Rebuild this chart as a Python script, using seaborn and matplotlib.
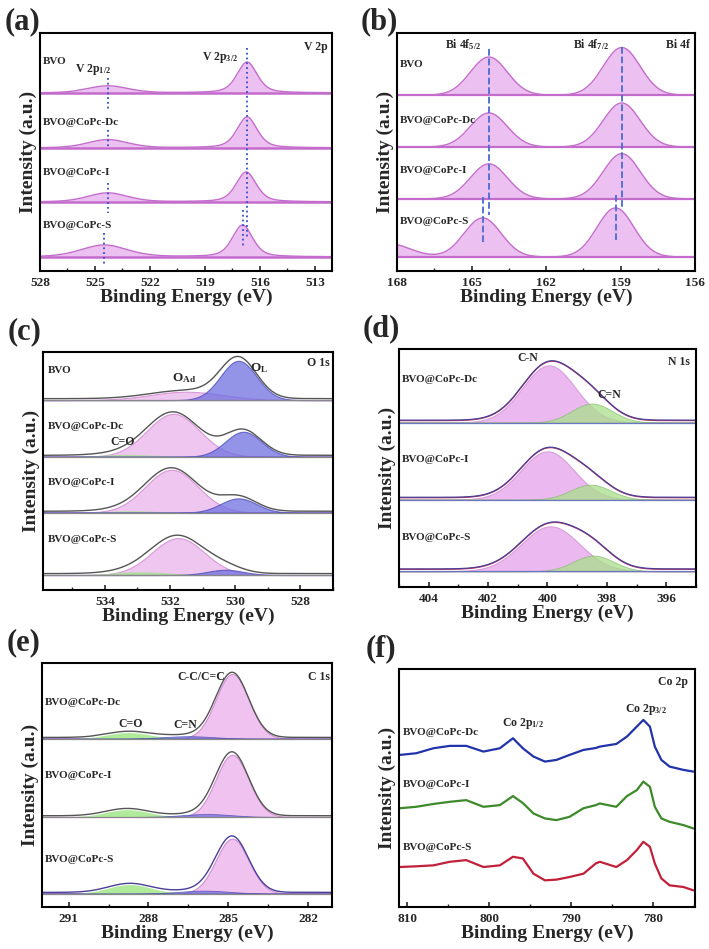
import numpy as np
import matplotlib
matplotlib.use('Agg')
import matplotlib.pyplot as plt
from matplotlib.ticker import MultipleLocator
import seaborn as sns

# === Data ===
samples4 = ['BVO', 'BVO@CoPc-Dc', 'BVO@CoPc-I', 'BVO@CoPc-S']
samples3 = ['BVO@CoPc-Dc', 'BVO@CoPc-I', 'BVO@CoPc-S']

# (a) V 2p
v2p_offset = [0.748, 0.517, 0.290, 0.059]
v2p32_center = [516.70, 516.70, 516.75, 516.95]
v2p32_height = [0.130, 0.130, 0.126, 0.134]
v2p12_center = [524.30, 524.30, 524.30, 524.50]
v2p12_height = [0.030, 0.035, 0.038, 0.050]
v2p12_fwhm = [2.6, 2.6, 2.6, 3.0]

# (b) Bi 4f
bi4f_offset = [0.739, 0.521, 0.303, 0.059]
bi72_center = [158.95, 158.95, 158.95, 159.20]
bi72_height = [0.200, 0.185, 0.190, 0.206]
bi52_center = [164.30, 164.30, 164.30, 164.55]
bi52_height = [0.160, 0.143, 0.147, 0.164]
bi_tail_height = [0.0, 0.0, 0.0, 0.055]

# (c) O 1s
o1s_offset = [0.798, 0.560, 0.325, 0.063]
ol_center = [529.90, 529.75, 529.90, 530.30]
ol_height = [0.165, 0.105, 0.060, 0.022]
oad_center = [531.50, 531.90, 531.95, 531.75]
oad_height = [0.035, 0.180, 0.180, 0.155]
oad_fwhm = [2.6, 1.9, 1.9, 1.9]
oco_center = [533.0, 533.3, 533.2, 532.9]
oco_height = [0.0, 0.010, 0.008, 0.014]

# (d) N 1s
n1s_offset = [0.691, 0.367, 0.066]
cn_center = [399.95, 400.00, 399.90]
cn_height = [0.240, 0.203, 0.189]
cn_fwhm = [2.1, 2.1, 2.3]
ndn_center = [398.50, 398.55, 398.45]
ndn_height = [0.080, 0.063, 0.066]

# (e) C 1s
c1s_offset = [0.690, 0.369, 0.055]
cc_center = [284.85, 284.85, 284.85]
cc_height = [0.265, 0.255, 0.225]
cdo_center = [288.75, 288.80, 288.70]
cdo_height = [0.025, 0.030, 0.037]
cdn_center = [286.50, 285.80, 285.90]
cdn_height = [0.010, 0.012, 0.012]

# (f) Co 2p spectra
co_energy = [810.9, 808.9, 806.8, 804.8, 802.8, 800.7, 798.7, 797.1, 795.9, 794.6,
             793.2, 791.8, 790.2, 788.5, 787.0, 786.5, 784.5, 783.2, 782.0, 781.2,
             780.4, 779.8, 779.0, 778.0, 776.3, 775.1]
co_dc = [0.639, 0.646, 0.667, 0.677, 0.677, 0.653, 0.667, 0.709, 0.667, 0.632,
         0.611, 0.618, 0.639, 0.660, 0.668, 0.674, 0.685, 0.716, 0.758, 0.786,
         0.758, 0.674, 0.618, 0.590, 0.576, 0.569]
co_i = [0.415, 0.421, 0.433, 0.442, 0.449, 0.421, 0.428, 0.466, 0.437, 0.393,
        0.372, 0.365, 0.379, 0.415, 0.428, 0.435, 0.421, 0.466, 0.491, 0.527,
        0.505, 0.421, 0.372, 0.358, 0.344, 0.330]
co_s = [0.168, 0.171, 0.175, 0.190, 0.197, 0.168, 0.175, 0.211, 0.204, 0.140,
        0.112, 0.115, 0.126, 0.140, 0.183, 0.190, 0.168, 0.197, 0.239, 0.274,
        0.253, 0.183, 0.120, 0.091, 0.084, 0.070]


def peak(x, c, h, fwhm, eta=0.0):
    g = np.exp(-4 * np.log(2) * (x - c) ** 2 / fwhm ** 2)
    l = 1.0 / (1 + 4 * (x - c) ** 2 / fwhm ** 2)
    return h * (eta * l + (1 - eta) * g)


sns.set_style('ticks')
plt.rcParams['font.family'] = ['Liberation Serif', 'DejaVu Serif']
plt.rcParams['font.weight'] = 'bold'
plt.rcParams['axes.labelweight'] = 'bold'
plt.rcParams['mathtext.fontset'] = 'custom'
plt.rcParams['mathtext.rm'] = 'Liberation Serif:bold'
plt.rcParams['mathtext.it'] = 'Liberation Serif:bold'
plt.rcParams['mathtext.bf'] = 'Liberation Serif:bold'

W, H = 709, 949
fig = plt.figure(figsize=(W / 100, H / 100), dpi=100)


def make_ax(l, r, t, b, xlim, major, minor, label):
    ax = fig.add_axes([l / W, (H - b) / H, (r - l) / W, (b - t) / H])
    ax.set_xlim(*xlim)
    ax.set_ylim(0, 1)
    ax.xaxis.set_major_locator(MultipleLocator(major))
    ax.xaxis.set_minor_locator(MultipleLocator(minor))
    ax.set_yticks([])
    ax.tick_params(axis='x', which='major', direction='in', length=3.5, width=1.2,
                   labelsize=9.5, pad=4)
    ax.tick_params(axis='x', which='minor', direction='in', length=2, width=1.0)
    for s in ax.spines.values():
        s.set_linewidth(1.5)
        s.set_color('black')
    ax.set_xlabel('Binding Energy (eV)', fontsize=14, labelpad=0)
    ax.set_ylabel('Intensity (a.u.)', fontsize=14, labelpad=2)
    fig.text((l - 18) / W, (H - 22) / H if t < 100 else (H - (t - 20)) / H, label,
             fontsize=22, fontweight='bold', ha='center', va='center')
    return ax


def small(ax, x, y, s, ha='left', trans=None, size=8.5):
    ax.text(x, y, s, fontsize=size, fontweight='bold', ha=ha, va='center',
            transform=trans if trans is not None else ax.get_xaxis_transform())


# === (a) V 2p ===
ax = make_ax(40, 332, 33, 271, (528, 512.07), 3, 1.5, '(a)')
x = np.linspace(528, 512.07, 700)
for i, name in enumerate(samples4):
    y = v2p_offset[i] + peak(x, v2p32_center[i], v2p32_height[i], 1.3, 0.45) \
        + peak(x, v2p12_center[i], v2p12_height[i], v2p12_fwhm[i], 0.3)
    ax.fill_between(x, v2p_offset[i], y, color='#ecc0f0', lw=0)
    sns.lineplot(x=x, y=y, ax=ax, color='#c46ccc', lw=1.0)
    ax.axhline(v2p_offset[i], color='#c46ccc', lw=1.8)
    small(ax, 0.01, [0.882, 0.626, 0.412, 0.193][i], name, trans=ax.transAxes, size=8)
ax.plot([516.7, 516.7], [0.937, 0.143], ls=':', color='#3050c8', lw=1.3)
ax.plot([516.95, 516.95], [0.256, 0.097], ls=':', color='#3050c8', lw=1.3)
for y0, y1 in [(0.811, 0.676), (0.592, 0.517), (0.37, 0.244)]:
    ax.plot([524.3, 524.3], [y0, y1], ls=':', color='#3050c8', lw=1.3)
ax.plot([524.5, 524.5], [0.16, 0.025], ls=':', color='#3050c8', lw=1.3)
small(ax, 526.1, 0.845, r'V 2p$_{1/2}$')
small(ax, 519.16, 0.899, r'V 2p$_{3/2}$')
small(ax, 0.986, 0.941, 'V 2p', ha='right', trans=ax.transAxes)

# === (b) Bi 4f ===
ax = make_ax(397, 695, 33, 271, (168, 156), 3, 1.5, '(b)')
x = np.linspace(168, 156, 700)
for i, name in enumerate(samples4):
    y = bi4f_offset[i] + peak(x, bi72_center[i], bi72_height[i], 1.75) \
        + peak(x, bi52_center[i], bi52_height[i], 1.75) + peak(x, 168.3, bi_tail_height[i], 2.0)
    ax.fill_between(x, bi4f_offset[i], y, color='#ecc0f0', lw=0)
    sns.lineplot(x=x, y=y, ax=ax, color='#c46ccc', lw=1.0)
    ax.axhline(bi4f_offset[i], color='#c46ccc', lw=1.6)
    small(ax, 0.01, [0.866, 0.634, 0.424, 0.206][i], name, trans=ax.transAxes, size=8)
ax.plot([164.3, 164.3], [0.933, 0.235], ls='--', color='#4a6ad0', lw=1.3)
ax.plot([158.95, 158.95], [0.941, 0.269], ls='--', color='#4a6ad0', lw=1.3)
ax.plot([164.55, 164.55], [0.311, 0.122], ls='--', color='#4a6ad0', lw=1.3)
ax.plot([159.2, 159.2], [0.319, 0.13], ls='--', color='#4a6ad0', lw=1.3)
small(ax, 166.06, 0.95, r'Bi 4f$_{5/2}$')
small(ax, 160.9, 0.95, r'Bi 4f$_{7/2}$')
small(ax, 0.983, 0.95, 'Bi 4f', ha='right', trans=ax.transAxes)

# === (c) O 1s ===
ax = make_ax(43, 333, 352, 590, (535.9, 527.0), 2, 1, '(c)')
x = np.linspace(535.9, 527.0, 700)
for i, name in enumerate(samples4):
    b = o1s_offset[i]
    p_ad = peak(x, oad_center[i], oad_height[i], oad_fwhm[i])
    p_l = peak(x, ol_center[i], ol_height[i], 1.3)
    p_co = peak(x, oco_center[i], oco_height[i], 2.0)
    ax.fill_between(x, b, b + p_ad, color='#efc6ef', lw=0.8, edgecolor='#d898d8')
    ax.fill_between(x, b, b + p_co, color='#a8e090', alpha=0.8, lw=0)
    ax.fill_between(x, b, b + p_l, color='#6f6fe0', alpha=0.75, lw=0.8, edgecolor='#4848b8')
    sns.lineplot(x=x, y=b + p_ad + p_l + p_co + 0.006, ax=ax, color='#555555', lw=1.0)
    ax.axhline(b, color='#888888', lw=0.9)
    small(ax, 0.015, [0.924, 0.685, 0.45, 0.214][i], name, trans=ax.transAxes, size=8)
small(ax, 531.94, 0.89, r'O$_{\mathrm{Ad}}$', size=9.5)
small(ax, 529.55, 0.933, r'O$_{\mathrm{L}}$', size=9.5)
small(ax, 0.99, 0.954, 'O 1s', ha='right', trans=ax.transAxes)
small(ax, 533.84, 0.622, 'C=O')

# === (d) N 1s ===
ax = make_ax(399, 696, 349, 587, (405, 395), 2, 1, '(d)')
x = np.linspace(405, 395, 700)
for i, name in enumerate(samples3):
    b = n1s_offset[i]
    p1 = peak(x, cn_center[i], cn_height[i], cn_fwhm[i])
    p2 = peak(x, ndn_center[i], ndn_height[i], 1.6)
    ax.fill_between(x, b, b + p1, color='#ebb8f0', lw=0.8, edgecolor='#d6a0dc')
    ax.fill_between(x, b, b + p2, color='#a8e08a', alpha=0.75, lw=0.6, edgecolor='#88b870')
    sns.lineplot(x=x, y=b + p1 + p2 + 0.008, ax=ax, color='#c83a5a', lw=0.9)
    sns.lineplot(x=x, y=b + p1 + p2 + 0.010, ax=ax, color='#4a3f99', lw=0.9)
    ax.axhline(b, color='#6a78c0', lw=0.9)
    small(ax, 0.01, [0.87, 0.534, 0.206][i], name, trans=ax.transAxes, size=8)
small(ax, 401.0, 0.962, 'C-N')
small(ax, 398.31, 0.807, 'C=N')
small(ax, 0.98, 0.945, 'N 1s', ha='right', trans=ax.transAxes)

# === (e) C 1s ===
ax = make_ax(42, 332, 663, 907, (292, 281.1), 3, 1.5, '(e)')
x = np.linspace(292, 281.1, 700)
for i, name in enumerate(samples3):
    b = c1s_offset[i]
    p1 = peak(x, cc_center[i], cc_height[i], 1.45)
    p2 = peak(x, cdo_center[i], cdo_height[i], 1.9)
    p3 = peak(x, cdn_center[i], cdn_height[i], 2.2)
    ax.fill_between(x, b, b + p1, color='#f0c2f0', lw=0.8, edgecolor='#d090d0')
    ax.fill_between(x, b, b + p2, color='#a8e890', alpha=0.9, lw=0)
    ax.fill_between(x, b, b + p3, color='#6a6ad8', alpha=0.7, lw=0.6, edgecolor='#4040b0')
    sns.lineplot(x=x, y=b + p1 + p2 + p3 + 0.005, ax=ax,
                 color='#4a3f99' if i == 2 else '#555555', lw=1.0)
    ax.axhline(b, color='#888888', lw=0.9)
    small(ax, 0.01, [0.84, 0.537, 0.193][i], name, trans=ax.transAxes, size=8)
small(ax, 286.9, 0.943, 'C-C/C=C')
small(ax, 0.993, 0.943, 'C 1s', ha='right', trans=ax.transAxes)
small(ax, 289.13, 0.75, 'C=O')
small(ax, 287.06, 0.746, 'C=N')

# === (f) Co 2p ===
ax = make_ax(399, 695, 669, 907, (811, 774.9), 10, 5, '(f)')
for vals, col in [(co_dc, '#2233aa'), (co_i, '#3d8a2a'), (co_s, '#c0203a')]:
    sns.lineplot(x=co_energy, y=vals, ax=ax, color=col, lw=1.6)
for name, yy in zip(samples3, [0.735, 0.513, 0.252]):
    small(ax, 0.013, yy, name, trans=ax.transAxes, size=8)
small(ax, 0.976, 0.945, 'Co 2p', ha='right', trans=ax.transAxes)
small(ax, 783.4, 0.828, r'Co 2p$_{3/2}$')
small(ax, 798.4, 0.773, r'Co 2p$_{1/2}$')

fig.savefig('out.png', dpi=100)
